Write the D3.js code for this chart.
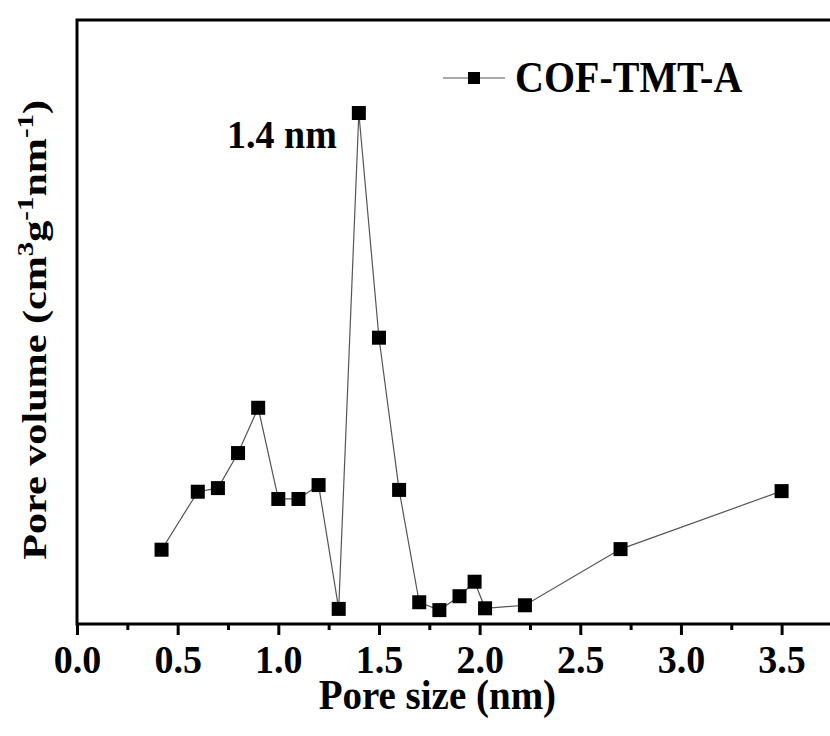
<!DOCTYPE html>
<meta charset="utf-8">
<style>
body { margin: 0; background: #fff; }
text { font-family: "Liberation Serif", "Times New Roman", serif; font-weight: bold; fill: #000; }
</style>
<svg width="830" height="736"></svg>
<script src="https://d3js.org/d3.v7.min.js"></script>
<script>

// pore size (nm) and pore volume (arbitrary units)
var poreSize = [0.42, 0.6, 0.7, 0.8, 0.9, 1.0, 1.1, 1.2, 1.3, 1.4, 1.5, 1.6, 1.7, 1.8, 1.9, 1.975, 2.027, 2.225, 2.7, 3.5];
var poreVolume = [12.3, 21.9, 22.5, 28.3, 35.8, 20.7, 20.7, 23.0, 2.5, 84.6, 47.4, 22.2, 3.6, 2.3, 4.6, 7.0, 2.6, 3.1, 12.4, 22.0];
var xTicks = [0, 0.5, 1.0, 1.5, 2.0, 2.5, 3.0, 3.5];
var seriesName = "COF-TMT-A";
var peakLabel = "1.4 nm";

var svg = d3.select("svg"),
    margin = {top: 20, right: -12, bottom: 112, left: 77},
    width = +svg.attr("width") - margin.left - margin.right,
    height = +svg.attr("height") - margin.top - margin.bottom;

var x = d3.scaleLinear().domain([0, 3.8]).range([0, width]);
var y = d3.scaleLinear().domain([0, 100]).range([height, 0]);

var data = poreSize.map(function(d, i) { return {x: d, y: poreVolume[i]}; });

var g = svg.append("g").attr("transform", "translate(" + margin.left + "," + margin.top + ")");

// line + markers
g.append("path")
    .datum(data)
    .attr("fill", "none")
    .attr("stroke", "#555")
    .attr("stroke-width", 1.2)
    .attr("d", d3.line().x(function(d) { return x(d.x); }).y(function(d) { return y(d.y); }));

g.selectAll("rect.pt")
    .data(data)
    .enter().append("rect")
      .attr("class", "pt")
      .attr("x", function(d) { return x(d.x) - 7; })
      .attr("y", function(d) { return y(d.y) - 7; })
      .attr("width", 14)
      .attr("height", 14)
      .attr("fill", "#000");

// frame
g.append("rect")
    .attr("width", width)
    .attr("height", height)
    .attr("fill", "none")
    .attr("stroke", "#000")
    .attr("stroke-width", 3);

// x axis: minor ticks, then major ticks with labels
var minor = d3.axisBottom(x).tickValues(d3.range(0.25, 3.8, 0.5)).tickSize(6).tickFormat("");
g.append("g").attr("transform", "translate(0," + height + ")").call(minor)
    .call(function(a) { a.select(".domain").remove(); a.selectAll("line").attr("stroke-width", 3); });

var xAxis = d3.axisBottom(x).tickValues(xTicks).tickSize(11).tickFormat(d3.format(".1f"));
g.append("g").attr("transform", "translate(0," + height + ")").call(xAxis)
    .call(function(a) {
      a.select(".domain").remove();
      a.selectAll("line").attr("stroke-width", 3);
      a.selectAll("text")
          .attr("font-size", 38)
          .attr("font-family", null)
          .attr("y", 0).attr("dy", null)
          .attr("transform", "translate(0,49) scale(1,1.08)");
    });

// axis titles
svg.append("text")
    .attr("transform", "translate(" + (margin.left + x(1.79)) + ",709) scale(1,1.08)")
    .attr("text-anchor", "middle")
    .attr("font-size", 39)
    .text("Pore size (nm)");

var yt = svg.append("text")
    .attr("transform", "translate(46," + (margin.top + y(48.7)) + ") rotate(-90) scale(1.11,0.9)")
    .attr("text-anchor", "middle")
    .attr("font-size", 38);
yt.append("tspan").text("Pore volume (cm");
yt.append("tspan").attr("font-size", 26).attr("dy", -15).text("3");
yt.append("tspan").attr("dy", 15).text("g");
yt.append("tspan").attr("font-size", 26).attr("dy", -15).text("-1");
yt.append("tspan").attr("dy", 15).text("nm");
yt.append("tspan").attr("font-size", 26).attr("dy", -15).text("-1");
yt.append("tspan").attr("dy", 15).text(")");

// peak annotation
g.append("text")
    .attr("transform", "translate(" + (x(1.4) - 22) + "," + (y(84.6) + 35) + ") scale(1,1.08)")
    .attr("text-anchor", "end")
    .attr("font-size", 38)
    .text(peakLabel);

// legend
var lg = svg.append("g").attr("transform", "translate(443,78)");
lg.append("line").attr("x1", 0).attr("x2", 62).attr("stroke", "#555").attr("stroke-width", 1.2);
lg.append("rect").attr("x", 25).attr("y", -6).attr("width", 12).attr("height", 12).attr("fill", "#000");
lg.append("text").attr("transform", "translate(72,14) scale(1,1.1)").attr("font-size", 40).text(seriesName);

</script>
